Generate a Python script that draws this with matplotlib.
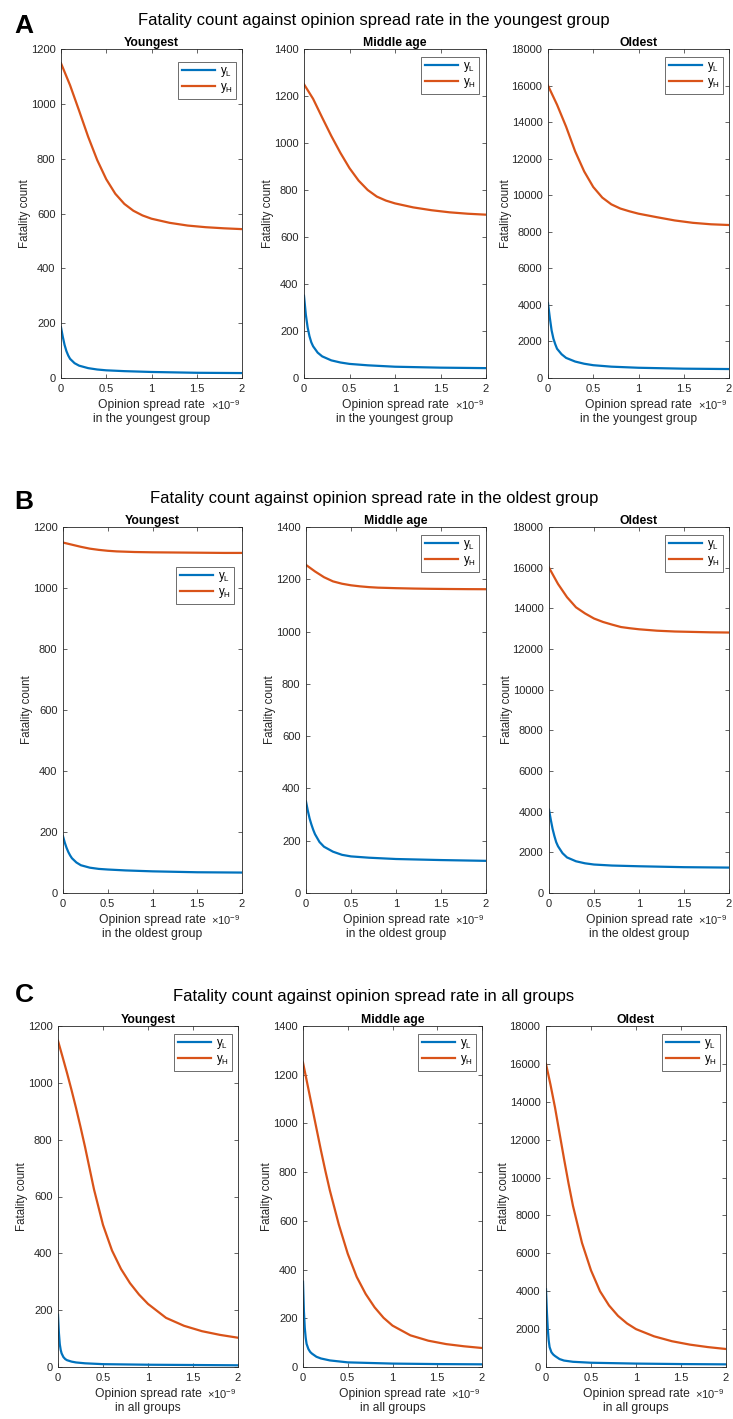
import matplotlib
matplotlib.use("Agg")
import matplotlib.pyplot as plt

plt.rcParams['font.family'] = ['Liberation Sans', 'DejaVu Sans']
plt.rcParams['mathtext.fontset'] = 'custom'
plt.rcParams['mathtext.rm'] = 'Liberation Sans'
plt.rcParams['mathtext.it'] = 'Liberation Sans'

# ---------------- data (x in units of 1e-9) ----------------
x_H = [0, 0.1, 0.2, 0.3, 0.4, 0.5, 0.6, 0.7, 0.8, 0.9, 1.0, 1.2, 1.4, 1.6, 1.8, 2.0]
x_L = [0, 0.02, 0.04, 0.06, 0.08, 0.1, 0.15, 0.2, 0.3, 0.4, 0.5, 0.7, 1.0, 1.5, 2.0]
x_HC = [0, 0.05, 0.1, 0.15, 0.2, 0.25, 0.3, 0.4, 0.5, 0.6, 0.7, 0.8, 0.9, 1.0, 1.2, 1.4, 1.6, 1.8, 2.0]
x_LC = [0, 0.01, 0.02, 0.03, 0.04, 0.06, 0.08, 0.1, 0.15, 0.2, 0.3, 0.5, 1.0, 1.5, 2.0]

# Panel A: spread rate in youngest group
A_young_yH = [1148, 1068, 975, 880, 795, 725, 672, 635, 610, 593, 581, 566, 556, 550, 546, 543]
A_middle_yH = [1250, 1188, 1108, 1030, 958, 893, 840, 800, 772, 755, 743, 726, 714, 705, 699, 695]
A_oldest_yH = [16000, 14950, 13750, 12400, 11300, 10450, 9870, 9500, 9270, 9120, 8990, 8800, 8620, 8490, 8410, 8370]
A_young_yL = [185, 150, 120, 98, 82, 70, 54, 45, 36, 31, 28, 25, 22, 19, 18]
A_middle_yL = [350, 270, 215, 178, 152, 135, 108, 92, 75, 66, 60, 54, 48, 44, 42]
A_oldest_yL = [4100, 3300, 2600, 2150, 1850, 1600, 1300, 1100, 900, 780, 700, 620, 560, 510, 490]

# Panel B: spread rate in oldest group
B_young_yH = [1149, 1142, 1135, 1129, 1125, 1122, 1120, 1119, 1118, 1117.5, 1117, 1116.5, 1116, 1115.5, 1115, 1115]
B_middle_yH = [1255, 1230, 1208, 1192, 1183, 1177, 1173, 1170, 1168, 1167, 1166, 1164.5, 1163.5, 1162.8, 1162.3, 1162]
B_oldest_yH = [16000, 15200, 14550, 14050, 13750, 13500, 13330, 13200, 13080, 13020, 12970, 12900, 12860, 12840, 12820, 12810]
B_young_yL = [186, 165, 148, 134, 123, 114, 100, 91, 83, 79, 77, 74, 71, 68, 67]
B_middle_yL = [350, 315, 285, 262, 242, 225, 195, 177, 158, 146, 140, 135, 130, 126, 123]
B_oldest_yL = [4100, 3600, 3150, 2800, 2500, 2300, 1960, 1750, 1560, 1460, 1400, 1350, 1315, 1270, 1250]

# Panel C: spread rate in all groups
C_young_yH = [1148, 1092, 1035, 975, 912, 845, 775, 625, 500, 410, 345, 295, 255, 222, 173, 145, 126, 113, 103]
C_middle_yH = [1250, 1160, 1070, 980, 890, 805, 725, 585, 465, 370, 300, 245, 202, 170, 130, 108, 94, 85, 78]
C_oldest_yH = [16000, 14900, 13700, 12350, 11000, 9700, 8500, 6550, 5100, 4000, 3250, 2700, 2300, 2000, 1620, 1360, 1180, 1050, 950]
C_young_yL = [184, 120, 80, 60, 48, 35, 28, 24, 19, 16, 13, 10, 8, 7, 6]
C_middle_yL = [350, 230, 160, 120, 95, 74, 62, 55, 42, 35, 27, 19, 14, 12, 11]
C_oldest_yL = [4100, 2900, 2000, 1400, 1050, 780, 660, 580, 420, 340, 275, 225, 180, 155, 140]

group_titles = ["Youngest", "Middle age", "Oldest"]
y_limits = [1200, 1400, 18000]
y_steps = [200, 200, 2000]
x_ticks = [0, 0.5, 1, 1.5, 2]
x_tick_labels = ["0", "0.5", "1", "1.5", "2"]
panel_letters = ["A", "B", "C"]
panel_titles = ["Fatality count against opinion spread rate in the youngest group",
                "Fatality count against opinion spread rate in the oldest group",
                "Fatality count against opinion spread rate in all groups"]
xlabel_second = ["in the youngest group", "in the oldest group", "in all groups"]

rows = [
    (x_H, [A_young_yH, A_middle_yH, A_oldest_yH], x_L, [A_young_yL, A_middle_yL, A_oldest_yL]),
    (x_H, [B_young_yH, B_middle_yH, B_oldest_yH], x_L, [B_young_yL, B_middle_yL, B_oldest_yL]),
    (x_HC, [C_young_yH, C_middle_yH, C_oldest_yH], x_LC, [C_young_yL, C_middle_yL, C_oldest_yL]),
]

# ---------------- layout (pixels) ----------------
W, H = 733, 1419
fig = plt.figure(figsize=(W / 100, H / 100), dpi=100)

row_tb = [(49, 378), (527, 893), (1026, 1367)]
col_lr = [[(61, 242), (304, 486), (548, 729)],
          [(63, 242), (306, 486), (549, 729)],
          [(58, 238), (303, 482), (546, 726)]]
legend_pos = [[(236, 62), (479, 57), (723, 57)],
              [(234, 567), (479, 535), (723, 535)],
              [(232, 1034), (476, 1034), (720, 1034)]]
suptitle_y = [20, 498, 997]
letter_y = [26, 502, 995]

BLUE = "#0072BD"
ORANGE = "#D95319"
DARK = "#262626"

for r in range(3):
    xh, yHs, xl, yLs = rows[r]
    top, bot = row_tb[r]
    for c in range(3):
        left, right = col_lr[r][c]
        ax = fig.add_axes([left / W, 1 - bot / H, (right - left) / W, (bot - top) / H])
        ax.plot(xl, yLs[c], color=BLUE, lw=1.6, label=r"$\mathregular{y_L}$")
        ax.plot(xh, yHs[c], color=ORANGE, lw=1.6, label=r"$\mathregular{y_H}$")
        ax.set_xlim(0, 2)
        ax.set_ylim(0, y_limits[c])
        ax.set_xticks(x_ticks)
        ax.set_xticklabels(x_tick_labels)
        ax.set_yticks(range(0, y_limits[c] + 1, y_steps[c]))
        ax.tick_params(direction='in', top=True, right=True, length=3, width=0.5,
                       labelsize=8, colors=DARK, pad=4)
        for s in ax.spines.values():
            s.set_linewidth(0.6)
            s.set_color(DARK)
        ax.set_title(group_titles[c], fontsize=8.8, fontweight='bold', pad=2, color='black')
        ax.set_ylabel("Fatality count", fontsize=8.3, color=DARK, labelpad=0)
        ax.set_xlabel("Opinion spread rate\n" + xlabel_second[r], fontsize=8.7, color=DARK,
                      labelpad=4, linespacing=1.2)
        ax.annotate("×10$^{\\mathregular{-9}}$", xy=(1, 0), xycoords='axes fraction',
                    xytext=(-2, -20), textcoords='offset pixels', ha='right', va='top',
                    fontsize=8, color=DARK)
        lx, ly = legend_pos[r][c]
        leg = ax.legend(loc='upper right', bbox_to_anchor=(lx / W, 1 - ly / H),
                        bbox_transform=fig.transFigure, borderaxespad=0,
                        fontsize=8.3, handlelength=2.9, handletextpad=0.4,
                        labelspacing=0.15, borderpad=0.3, fancybox=False,
                        framealpha=1, edgecolor='#555555')
        leg.get_frame().set_linewidth(0.6)
    fig.text(374 / W, 1 - suptitle_y[r] / H, panel_titles[r], ha='center', va='center',
             fontsize=12, color='black')
    fig.text(24 / W, 1 - letter_y[r] / H, panel_letters[r], ha='center', va='center',
             fontsize=19, fontweight='bold', color='black')

fig.savefig("out.png", dpi=100)
